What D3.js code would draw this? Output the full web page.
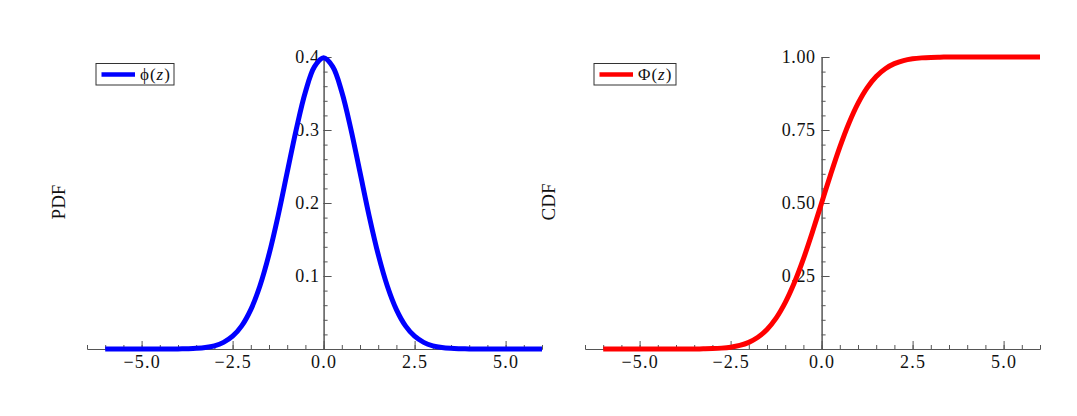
<!DOCTYPE html>
<html>
<head>
<meta charset="utf-8">
<script src="https://cdn.jsdelivr.net/npm/d3@7"></script>
<style>
  body { margin: 0; background: #fff; }
  text { font-family: "Liberation Serif", "Times New Roman", serif; }
</style>
</head>
<body>
<div id="chart"></div>
<script>
// z grid
const zValues = [-6, -5.75, -5.5, -5.25, -5, -4.75, -4.5, -4.25, -4, -3.75, -3.5, -3.25, -3,
  -2.75, -2.5, -2.25, -2, -1.75, -1.5, -1.25, -1, -0.75, -0.5, -0.25, 0,
  0.25, 0.5, 0.75, 1, 1.25, 1.5, 1.75, 2, 2.25, 2.5, 2.75, 3, 3.25, 3.5, 3.75,
  4, 4.25, 4.5, 4.75, 5, 5.25, 5.5, 5.75, 6]
const pdfValues = [0, 0, 0, 0, 0, 0, 0, 0, 0.0001, 0.0004, 0.0009, 0.002, 0.0044,
  0.0091, 0.0175, 0.0317, 0.054, 0.0863, 0.1295, 0.1826, 0.242, 0.3011, 0.3521, 0.3867, 0.3989,
  0.3867, 0.3521, 0.3011, 0.242, 0.1826, 0.1295, 0.0863, 0.054, 0.0317, 0.0175, 0.0091, 0.0044, 0.002, 0.0009, 0.0004,
  0.0001, 0, 0, 0, 0, 0, 0, 0, 0]
const cdfValues = [0, 0, 0, 0, 0, 0, 0, 0, 0, 0.0001, 0.0002, 0.0006, 0.0013,
  0.003, 0.0062, 0.0122, 0.0228, 0.0401, 0.0668, 0.1056, 0.1587, 0.2266, 0.3085, 0.4013, 0.5,
  0.5987, 0.6915, 0.7734, 0.8413, 0.8944, 0.9332, 0.9599, 0.9772, 0.9878, 0.9938, 0.997, 0.9987, 0.9994, 0.9998, 0.9999,
  1, 1, 1, 1, 1, 1, 1, 1, 1]

const xMajor = [-5, -2.5, 0, 2.5, 5]
const xMinor = d3.range(-6.5, 6.01, 0.5)
const pdfMajor = [0.1, 0.2, 0.3, 0.4]
const pdfMinor = d3.range(0.02, 0.401, 0.02)
const cdfMajor = [0.25, 0.5, 0.75, 1]
const cdfMinor = d3.range(0.05, 1.001, 0.05)

const WIDTH = 1077, HEIGHT = 416
const AXIS_COLOR = '#555'

const svg = d3.select('#chart').append('svg')
  .attr('width', WIDTH)
  .attr('height', HEIGHT)

const panels = [
  { left: 87, right: 542, values: pdfValues, color: '#0000ff', yMax: 0.4, pad: 4,
    major: pdfMajor, minor: pdfMinor, fmt: d3.format('.1f'), label: 'PDF', labelX: 58,
    legend: { x: 96, w: 78, sym: 'ϕ' } },
  { left: 585, right: 1040, values: cdfValues, color: '#ff0000', yMax: 1, pad: 6,
    major: cdfMajor, minor: cdfMinor, fmt: d3.format('.2f'), label: 'CDF', labelX: 548,
    legend: { x: 594, w: 82, sym: 'Φ' } }
]

panels.forEach(p => {
  const x = d3.scaleLinear().domain([-6.5, 6]).range([p.left, p.right])
  const y = d3.scaleLinear().domain([0, p.yMax]).range([349, 57])
  const g = svg.append('g')

  // x axis: minor then major ticks pointing up
  g.append('g')
    .attr('transform', `translate(0, ${y(0)})`)
    .call(d3.axisBottom(x).tickValues(xMinor).tickSizeInner(-4).tickSizeOuter(0).tickFormat(''))
  g.append('g')
    .attr('class', 'xmajor')
    .attr('transform', `translate(0, ${y(0)})`)
    .call(d3.axisBottom(x).tickValues(xMajor).tickSizeInner(-8).tickSizeOuter(0)
      .tickPadding(6).tickFormat(d3.format('.1f')))

  // y axis through z = 0, ticks to the right
  g.append('g')
    .attr('transform', `translate(${x(0)}, 0)`)
    .call(d3.axisLeft(y).tickValues(p.minor).tickSizeInner(-4).tickSizeOuter(0).tickFormat(''))
  g.append('g')
    .attr('transform', `translate(${x(0)}, 0)`)
    .call(d3.axisLeft(y).tickValues(p.major).tickSizeInner(-8).tickSizeOuter(0)
      .tickPadding(p.pad).tickFormat(p.fmt))

  g.selectAll('.domain, .tick line').attr('stroke', AXIS_COLOR)
  g.selectAll('.tick text').attr('font-size', 18).attr('fill', '#111')
    .style('font-family', '"Liberation Serif", serif')
    .style('letter-spacing', '0.6px')
  g.selectAll('.xmajor .tick text').style('letter-spacing', '1.2px')

  // axis title
  g.append('text')
    .attr('transform', `translate(${p.labelX}, 202) rotate(-90)`)
    .attr('text-anchor', 'middle')
    .attr('dy', '0.35em')
    .attr('font-size', 19)
    .attr('fill', '#111')
    .text(p.label)

  // curve
  const line = d3.line()
    .x((d, i) => x(zValues[i]))
    .y(d => y(d))
    .curve(d3.curveCatmullRom)
  g.append('path')
    .datum(p.values)
    .attr('fill', 'none')
    .attr('stroke', p.color)
    .attr('stroke-width', 5)
    .attr('d', line)

  // legend
  const lg = g.append('g').attr('transform', `translate(${p.legend.x}, 63.5)`)
  lg.append('rect')
    .attr('width', p.legend.w).attr('height', 21.5)
    .attr('fill', '#fff').attr('stroke', '#333').attr('stroke-width', 1)
  lg.append('line')
    .attr('x1', 5.5).attr('x2', 39).attr('y1', 11).attr('y2', 11)
    .attr('stroke', p.color).attr('stroke-width', 4.5)
  const t = lg.append('text')
    .attr('x', 44).attr('y', 16.5)
    .attr('font-size', 17).attr('fill', '#111')
    .style('letter-spacing', '1px')
  t.append('tspan').text(p.legend.sym + '(')
  t.append('tspan').attr('font-style', 'italic').text('z')
  t.append('tspan').text(')')
})
</script>
</body>
</html>
